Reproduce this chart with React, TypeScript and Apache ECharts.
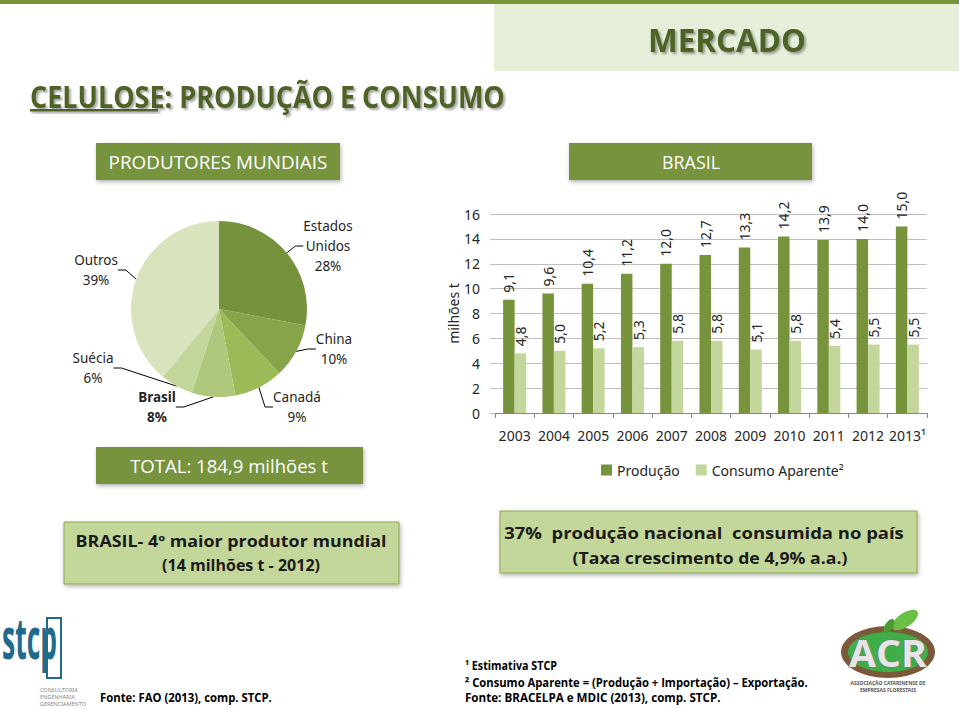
import React, { useEffect, useRef } from "react";
import * as echarts from "echarts";

// ---------- DATA ----------
const years = ["2003", "2004", "2005", "2006", "2007", "2008", "2009", "2010", "2011", "2012", "2013¹"];
const producao = [9.1, 9.6, 10.4, 11.2, 12.0, 12.7, 13.3, 14.2, 13.9, 14.0, 15.0];
const consumo = [4.8, 5.0, 5.2, 5.3, 5.8, 5.8, 5.1, 5.8, 5.4, 5.5, 5.5];
const seriesNames = ["Produção", "Consumo Aparente²"];
const paises = ["Estados Unidos", "China", "Canadá", "Brasil", "Suécia", "Outros"];
const paisLabels = ["Estados\nUnidos", "China", "Canadá", "Brasil", "Suécia", "Outros"];
const participacao = [28, 10, 9, 8, 6, 39];
const yMin = 0;
const yMax = 16;
const yInterval = 2;

// ---------- STYLE ----------
const pieColors = ["#76923c", "#86a449", "#9bbb59", "#afc87b", "#c4d79b", "#d7e4bd"];
const pieLabelPos = [
  [328, 246],
  [334, 349],
  [297, 407],
  [157, 407],
  [93, 368],
  [96, 270],
];
const FONT = "'Noto Sans', 'Open Sans', sans-serif";
const OPEN = "'Open Sans'";
const DARK = "#4f6228";
const MID = "#77933c";

function measure(text: string, font: string): number {
  try {
    const c = document.createElement("canvas").getContext("2d");
    if (!c) return 0;
    c.font = font;
    return c.measureText(text).width;
  } catch (e) {
    return 0;
  }
}

// text element squeezed horizontally to a target width (emulates a condensed face)
function fitText(
  text: string,
  x: number,
  y: number,
  targetW: number,
  size: number,
  weight: string,
  fill: string,
  align: string,
  extra: any = {},
  scaleY = 1
) {
  const font = `${weight} ${size}px ${OPEN}`;
  const w = measure(text, font);
  const s = w > 0 ? targetW / w : 1;
  return {
    type: "text",
    x,
    y,
    scaleX: s,
    scaleY,
    style: { text, font: `${weight} ${size}px 'Open Sans', sans-serif`, fill, align, verticalAlign: "middle", ...extra },
  };
}

const fmt = (v: number) => v.toFixed(1).replace(".", ",");

export default function App() {
  const ref = useRef<HTMLDivElement>(null);

  useEffect(() => {
    if (!ref.current) return;
    const chart = echarts.init(ref.current, null, { renderer: "svg" });

    const shadowText = {
      textShadowColor: "rgba(0,0,0,0.35)",
      textShadowOffsetX: 2,
      textShadowOffsetY: 2,
      textShadowBlur: 2,
    };
    const boxShadow = {
      shadowColor: "rgba(0,0,0,0.3)",
      shadowBlur: 4,
      shadowOffsetX: 1,
      shadowOffsetY: 2,
    };

    const graphic: any[] = [
      // top rule
      { type: "rect", shape: { x: 0, y: 0, width: 959, height: 4 }, style: { fill: MID } },
      // MERCADO band
      { type: "rect", shape: { x: 494, y: 4, width: 465, height: 67 }, style: { fill: "#e6efda" } },
      fitText("MERCADO", 727, 39, 158, 32, "bold", DARK, "center", shadowText),
      // title
      fitText("CELULOSE: PRODUÇÃO E CONSUMO", 30, 96, 475, 31, "bold", DARK, "left", shadowText),
      {
        type: "rect",
        shape: { x: 30, y: 109, width: 128, height: 2.5 },
        style: { fill: DARK, shadowColor: "rgba(0,0,0,0.35)", shadowOffsetX: 2, shadowOffsetY: 2, shadowBlur: 2 },
      },
      // section headers
      { type: "rect", shape: { x: 96, y: 143, width: 244, height: 37 }, style: { fill: MID, ...boxShadow } },
      fitText("PRODUTORES MUNDIAIS", 218, 162, 219, 18, "normal", "#fff", "center"),
      { type: "rect", shape: { x: 569, y: 143, width: 243, height: 37 }, style: { fill: MID, ...boxShadow } },
      fitText("BRASIL", 691, 162, 58, 18, "normal", "#fff", "center"),
      // total box
      { type: "rect", shape: { x: 96, y: 447, width: 267, height: 37 }, style: { fill: MID, ...boxShadow } },
      fitText("TOTAL: 184,9 milhões t", 229, 466, 198, 19, "normal", "#fff", "center"),
      // bottom boxes
      {
        type: "rect",
        shape: { x: 64, y: 522, width: 335, height: 62 },
        style: { fill: "#c4d79b", stroke: "#8aa64e", lineWidth: 1, ...boxShadow },
      },
      fitText("BRASIL- 4º maior produtor mundial", 231, 541, 311, 16, "bold", "#1a1a1a", "center"),
      fitText("(14 milhões t - 2012)", 241, 565, 158, 16, "bold", "#1a1a1a", "center"),
      {
        type: "rect",
        shape: { x: 500, y: 511, width: 417, height: 62 },
        style: { fill: "#c4d79b", stroke: "#8aa64e", lineWidth: 1, ...boxShadow },
      },
      fitText("37%  produção nacional  consumida no país", 704, 533, 400, 16, "bold", "#1a1a1a", "center"),
      fitText("(Taxa crescimento de 4,9% a.a.)", 710, 558, 275, 16, "bold", "#1a1a1a", "center"),
      // footer sources
      fitText("Fonte: FAO (2013), comp. STCP.", 100, 697, 172, 11.5, "bold", "#000", "left"),
      fitText("¹ Estimativa STCP", 465, 665, 92, 11.5, "bold", "#000", "left"),
      fitText("² Consumo Aparente = (Produção + Importação) – Exportação.", 465, 682, 343, 11.5, "bold", "#000", "left"),
      fitText("Fonte: BRACELPA e MDIC (2013), comp. STCP.", 465, 698, 256, 11.5, "bold", "#000", "left"),
      // STCP logo
      {
        type: "rect",
        shape: { x: 47, y: 618, width: 14, height: 60 },
        style: { fill: "none", stroke: "#1f6b8e", lineWidth: 2 },
      },
      fitText("stcp", 2, 636, 55, 40, "bold", "#1f6b8e", "left", {}, 1.45),
      {
        type: "text",
        x: 40,
        y: 697,
        style: {
          text: "CONSULTORIA\nENGENHARIA\nGERENCIAMENTO",
          font: `5.5px ${FONT}`,
          lineHeight: 7,
          fill: "#888",
          verticalAlign: "middle",
        },
      },
      // ACR logo
      { type: "ellipse", shape: { cx: 888, cy: 652, rx: 47, ry: 26 }, style: { fill: "#7a5a3a" } },
      { type: "ellipse", shape: { cx: 888, cy: 652, rx: 40, ry: 20 }, style: { fill: "#3fae49" } },
      {
        type: "ellipse",
        shape: { cx: 0, cy: 0, rx: 15, ry: 7 },
        x: 905,
        y: 620,
        rotation: 0.6,
        style: { fill: "#6abf45" },
      },
      {
        type: "ellipse",
        shape: { cx: 0, cy: 0, rx: 8, ry: 4 },
        x: 889,
        y: 626,
        rotation: 1.0,
        style: { fill: "#4e9a32" },
      },
      fitText("ACR", 888, 652, 78, 34, "bold", "#e6e6e6", "center", { stroke: "#777", lineWidth: 1 }, 1.1),
      {
        type: "text",
        x: 888,
        y: 686,
        style: {
          text: "ASSOCIAÇÃO CATARINENSE DE\nEMPRESAS FLORESTAIS",
          font: `bold 5px ${FONT}`,
          lineHeight: 7,
          fill: "#555",
          align: "center",
          verticalAlign: "middle",
        },
      },
    ];

    const option: any = {
      animation: false,
      backgroundColor: "#ffffff",
      textStyle: { fontFamily: FONT },
      graphic,
      legend: {
        data: seriesNames,
        left: 596,
        top: 458,
        itemWidth: 11,
        itemHeight: 11,
        itemGap: 16,
        icon: "rect",
        textStyle: { fontSize: 14, color: "#262626", fontFamily: FONT },
      },
      grid: { left: 495, top: 214, width: 432, height: 199, containLabel: false },
      xAxis: {
        type: "category",
        data: years,
        axisLine: { lineStyle: { color: "#868686" } },
        axisTick: { show: true, length: 5, lineStyle: { color: "#868686" } },
        axisLabel: { fontSize: 14, color: "#262626", margin: 15, interval: 0, fontFamily: FONT },
      },
      yAxis: {
        type: "value",
        min: yMin,
        max: yMax,
        interval: yInterval,
        name: "milhões t",
        nameLocation: "middle",
        nameRotate: 90,
        nameGap: 34,
        nameTextStyle: { fontSize: 14, color: "#262626", fontFamily: FONT },
        axisLine: { show: false },
        axisTick: { show: true, length: 5, lineStyle: { color: "#bfbfbf" } },
        axisLabel: { fontSize: 14, color: "#262626", margin: 15, fontFamily: FONT },
        splitLine: { lineStyle: { color: "#bfbfbf" } },
      },
      series: [
        {
          type: "pie",
          center: [219, 309],
          radius: 88,
          startAngle: 90,
          clockwise: true,
          avoidLabelOverlap: false,
          data: paises.map((p, i) => ({
            name: p,
            value: participacao[i],
            itemStyle: { color: pieColors[i] },
            label: i === 3 ? { fontWeight: "bold" } : undefined,
          })),
          label: {
            show: true,
            position: "outside",
            formatter: (p: any) => `${paisLabels[p.dataIndex]}\n${p.value}%`,
            fontSize: 13.5,
            lineHeight: 20,
            color: "#262626",
            fontFamily: FONT,
            align: "center",
          },
          labelLine: { show: true, length: 8, length2: 8, lineStyle: { color: "#000", width: 1 } },
          labelLayout: (params: any) => {
            const pos = pieLabelPos[params.dataIndex];
            return { x: pos[0], y: pos[1], align: "center", verticalAlign: "middle" };
          },
          emphasis: { disabled: true },
        },
        {
          name: seriesNames[0],
          type: "bar",
          data: producao,
          barWidth: 11.5,
          barGap: "0%",
          itemStyle: { color: "#77933c" },
          label: {
            show: true,
            position: "top",
            rotate: 90,
            align: "left",
            verticalAlign: "middle",
            distance: 7,
            fontSize: 14,
            color: "#262626",
            fontFamily: FONT,
            formatter: (p: any) => fmt(p.value),
          },
        },
        {
          name: seriesNames[1],
          type: "bar",
          data: consumo,
          barWidth: 11.5,
          barGap: "0%",
          itemStyle: { color: "#c3d69b" },
          label: {
            show: true,
            position: "top",
            rotate: 90,
            align: "left",
            verticalAlign: "middle",
            distance: 7,
            fontSize: 14,
            color: "#262626",
            fontFamily: FONT,
            formatter: (p: any) => fmt(p.value),
          },
        },
      ],
    };

    chart.setOption(option);
    return () => chart.dispose();
  }, []);

  return (
    <div
      ref={ref}
      style={{ position: "absolute", left: 0, top: 0, width: 959, height: 709, background: "#fff" }}
    />
  );
}
